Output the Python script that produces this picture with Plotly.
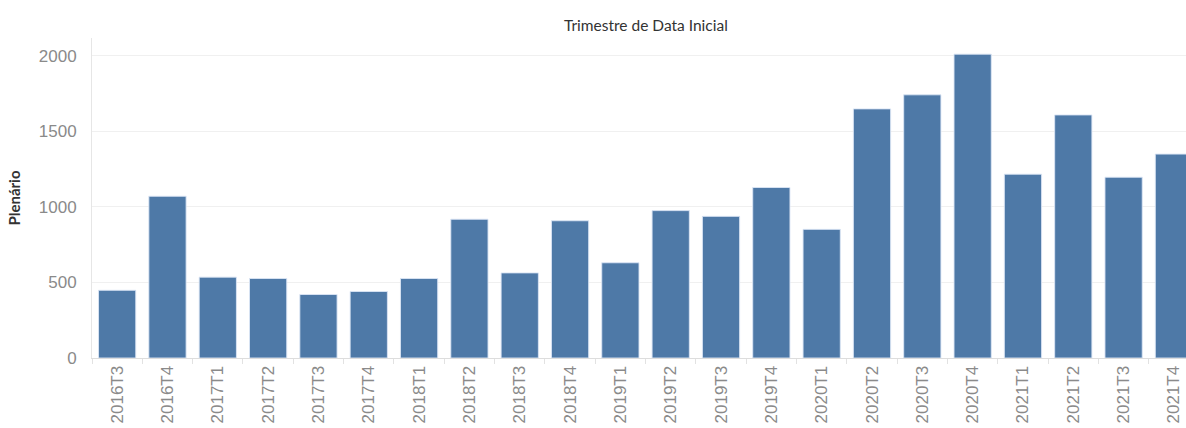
import plotly.graph_objects as go

# Trimestres (rótulos do eixo x) e contagens do Plenário
trimestres = ["2016T3", "2016T4", "2017T1", "2017T2", "2017T3", "2017T4",
              "2018T1", "2018T2", "2018T3", "2018T4", "2019T1", "2019T2",
              "2019T3", "2019T4", "2020T1", "2020T2", "2020T3", "2020T4",
              "2021T1", "2021T2", "2021T3", "2021T4"]
plenario = [448, 1070, 535, 526, 420, 440,
            526, 918, 563, 908, 630, 975,
            937, 1128, 851, 1648, 1741, 2010,
            1216, 1608, 1196, 1349]
y_ticks = [0, 500, 1000, 1500, 2000]

fig = go.Figure()
fig.add_trace(go.Bar(
    x=trimestres, y=plenario,
    marker=dict(color="#4e79a7", line=dict(color="rgba(220,230,245,0.9)", width=1)),
))

fig.update_layout(
    width=1186, height=428,
    margin=dict(l=92, r=0, t=38, b=70, autoexpand=False),
    paper_bgcolor="white", plot_bgcolor="white",
    bargap=0.26, showlegend=False,
    font=dict(family="Liberation Sans, Arial, sans-serif", color="#888888"),
)

fig.add_annotation(
    text="Trimestre de Data Inicial", xref="paper", yref="paper",
    x=(646 - 92) / (1186 - 92), y=1, yshift=2, yanchor="bottom",
    showarrow=False, font=dict(family="Lato, sans-serif", size=15.5, color="#333333"),
)

fig.update_xaxes(
    type="category", range=[-0.5, 21.24], automargin=False,
    tickangle=-90, tickfont=dict(size=17, color="#8a8a8a"),
    showline=True, linecolor="#dddddd", linewidth=1,
    ticks="outside", tickson="boundaries", ticklen=5, tickcolor="#e2e2e2",
    showgrid=False,
)
fig.update_yaxes(
    range=[0, 2117], tickvals=y_ticks, automargin=False,
    tickfont=dict(size=17, color="#8a8a8a"),
    showgrid=True, gridcolor="#f0f0f0", gridwidth=1,
    showline=True, linecolor="#e6e6e6", linewidth=1,
    zeroline=False, ticklabelstandoff=11,
    title=dict(text="Plenário", standoff=14,
               font=dict(family="Lato, sans-serif", size=15, color="#333333", weight="bold")),
)

# a página tem margem de 8px por omissão; tirar para alinhar com a janela
fig.write_html("out.html", config={"displayModeBar": False},
               post_script="document.body.style.margin='0';")
